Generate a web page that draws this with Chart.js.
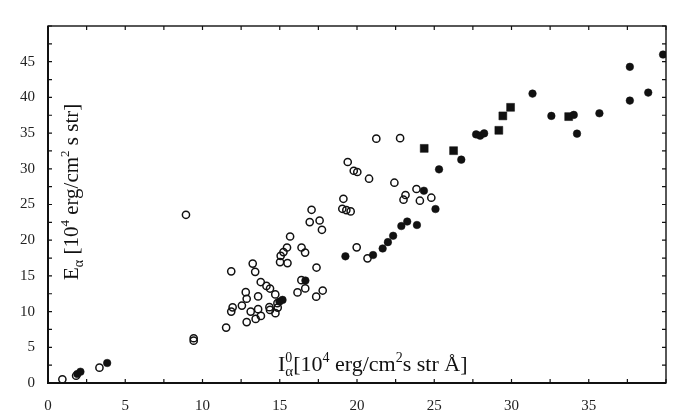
<!DOCTYPE html>
<html>
<head>
<meta charset="utf-8">
<script src="https://cdn.jsdelivr.net/npm/chart.js@4.4.0/dist/chart.umd.min.js"></script>
<style>
html,body{margin:0;padding:0;background:#fff;}
#wrap{width:697px;height:420px;position:relative;}
</style>
</head>
<body>
<div id="wrap"><canvas id="c" width="697" height="420"></canvas></div>
<script>
// ---- data ----
const openX = [0.93,1.82,3.33,9.43,9.43,8.93,11.53,11.86,11.86,11.95,12.55,12.8,12.86,12.86,13.12,13.25,13.41,13.6,13.6,13.77,13.44,13.78,14.14,14.37,14.33,14.37,14.71,14.72,14.85,14.87,15.02,15.06,15.24,15.47,15.5,15.67,16.15,16.41,16.4,16.64,16.65,17.06,16.94,17.58,17.73,17.38,17.36,17.78,19.05,19.31,19.59,19.12,19.4,19.79,20.02,20.78,21.25,22.79,22.42,23.85,23.14,23.01,24.07,24.81,19.98,20.68];
const openY = [0.52,1.02,2.15,5.93,6.27,23.56,7.76,15.64,10.0,10.6,10.84,12.72,11.8,8.53,10.0,16.72,15.57,12.13,10.34,14.14,8.98,9.4,13.6,13.23,10.62,10.24,12.41,9.78,11.18,10.56,16.93,17.81,18.33,18.98,16.79,20.52,12.69,18.98,14.4,18.27,13.25,24.26,22.54,22.76,21.46,16.17,12.09,12.95,24.4,24.22,24.03,25.8,30.95,29.73,29.55,28.61,34.22,34.29,28.05,27.17,26.33,25.67,25.53,25.95,19.0,17.46];

const filledX = [1.9,2.1,3.83,14.98,15.18,16.66,19.25,21.04,21.66,22.0,22.34,22.87,23.25,23.88,25.08,24.33,25.31,26.75,27.71,27.97,28.23,31.36,32.58,34.03,34.24,35.69,37.66,37.66,38.85,39.81];
const filledY = [1.26,1.58,2.8,11.4,11.64,14.35,17.74,17.92,18.84,19.73,20.62,21.98,22.61,22.13,24.36,26.93,29.92,31.28,34.82,34.64,34.96,40.53,37.41,37.55,34.92,37.77,44.28,39.55,40.67,46.0];

const squareX = [24.35,26.25,29.18,29.44,29.94,33.7];
const squareY = [32.86,32.54,35.39,37.41,38.61,37.31];

const xTickLabels = [0,5,10,15,20,25,30,35];
const yTickLabels = [0,5,10,15,20,25,30,35,40,45];

const xTitleParts = [
  {t:'I', k:'n'},
  {stack:[{t:'0', k:'sup'},{t:'α', k:'sub'}]},
  {t:'[10', k:'n'}, {t:'4', k:'sup'}, {t:' erg/cm', k:'n'}, {t:'2', k:'sup'}, {t:'s str Å]', k:'n'}
];
const yTitleParts = [
  {t:'E', k:'n'}, {t:'α', k:'sub'}, {t:' [10', k:'n'}, {t:'4', k:'sup'},
  {t:' erg/cm', k:'n'}, {t:'2', k:'sup'}, {t:' s str]', k:'n'}
];

// ---- drawing ----
const FAM = "'Liberation Serif','DejaVu Serif',serif";
const pts = (xs, ys) => xs.map((x, i) => ({x, y: ys[i]}));

function drawRich(ctx, parts, x0, y0, size){
  const sz = {n:size, sup:Math.round(size*0.62), sub:Math.round(size*0.68)};
  const dy = {n:0, sup:-size*0.42, sub:size*0.24};
  let x = x0;
  for (const p of parts){
    if (p.stack){
      let w = 0;
      for (const q of p.stack){
        ctx.font = sz[q.k] + 'px ' + FAM;
        ctx.fillText(q.t, x, y0 + dy[q.k]);
        w = Math.max(w, ctx.measureText(q.t).width);
      }
      x += w;
    } else {
      ctx.font = sz[p.k] + 'px ' + FAM;
      ctx.fillText(p.t, x, y0 + dy[p.k]);
      x += ctx.measureText(p.t).width;
    }
  }
}

const framePlugin = {
  id: 'frame',
  beforeDatasetsDraw(chart){
    const {ctx, chartArea: a, scales: {x, y}} = chart;
    ctx.save();
    ctx.strokeStyle = '#111';
    ctx.lineWidth = 1.4;
    ctx.strokeRect(a.left, a.top, a.right - a.left, a.bottom - a.top);
    ctx.lineWidth = 2;
    ctx.beginPath();
    ctx.moveTo(a.left, a.top); ctx.lineTo(a.left, a.bottom); ctx.lineTo(a.right, a.bottom);
    ctx.stroke();
    ctx.lineWidth = 1.2;
    ctx.beginPath();
    for (let v = x.min; v <= x.max + 1e-9; v += 2.5){
      const px = x.getPixelForValue(v);
      ctx.moveTo(px, a.bottom); ctx.lineTo(px, a.bottom - 4);
      ctx.moveTo(px, a.top); ctx.lineTo(px, a.top + 4);
    }
    for (let v = y.min; v <= y.max + 1e-9; v += 2.5){
      const py = y.getPixelForValue(v);
      ctx.moveTo(a.left, py); ctx.lineTo(a.left + 4, py);
      ctx.moveTo(a.right, py); ctx.lineTo(a.right - 4, py);
    }
    ctx.stroke();

    // axis titles (inside the frame)
    ctx.fillStyle = '#111';
    ctx.textBaseline = 'alphabetic';
    ctx.textAlign = 'left';
    drawRich(ctx, xTitleParts, a.left + 230, a.bottom - 12, 22);
    ctx.save();
    ctx.translate(a.left + 30, a.top + 254);
    ctx.rotate(-Math.PI / 2);
    drawRich(ctx, yTitleParts, 0, 0, 21);
    ctx.restore();
    ctx.restore();
  }
};

new Chart(document.getElementById('c'), {
  type: 'scatter',
  data: {
    datasets: [
      {label:'open', data: pts(openX, openY), pointStyle:'circle', pointRadius:3.6, pointBorderWidth:1.5,
       borderColor:'#111', backgroundColor:'rgba(255,255,255,0)'},
      {label:'filled', data: pts(filledX, filledY), pointStyle:'circle', pointRadius:3.8, pointBorderWidth:0.5,
       borderColor:'#111', backgroundColor:'#111'},
      {label:'square', data: pts(squareX, squareY), pointStyle:'rect', pointRadius:5.6, pointBorderWidth:0.5,
       borderColor:'#111', backgroundColor:'#111'}
    ]
  },
  options: {
    responsive: false,
    animation: false,
    devicePixelRatio: 1,
    layout: {padding: {top: 26, right: 31, left: 0, bottom: 0}},
    plugins: {legend: {display: false}, tooltip: {enabled: false}},
    scales: {
      x: {
        type: 'linear', min: 0, max: 40,
        grid: {display: false}, border: {display: false},
        ticks: {stepSize: 5, padding: 6, color: '#222', font: {family: FAM, size: 15},
                maxRotation: 0, autoSkip: false,
                callback: v => xTickLabels.includes(v) ? String(v) : ''},
        afterFit: s => { s.height = 37; }
      },
      y: {
        type: 'linear', min: 0, max: 50,
        grid: {display: false}, border: {display: false},
        ticks: {stepSize: 5, padding: 5, color: '#222', font: {family: FAM, size: 15},
                autoSkip: false,
                callback: v => yTickLabels.includes(v) ? String(v) : ''},
        afterFit: s => { s.width = 48; }
      }
    }
  },
  plugins: [framePlugin]
});
</script>
</body>
</html>
